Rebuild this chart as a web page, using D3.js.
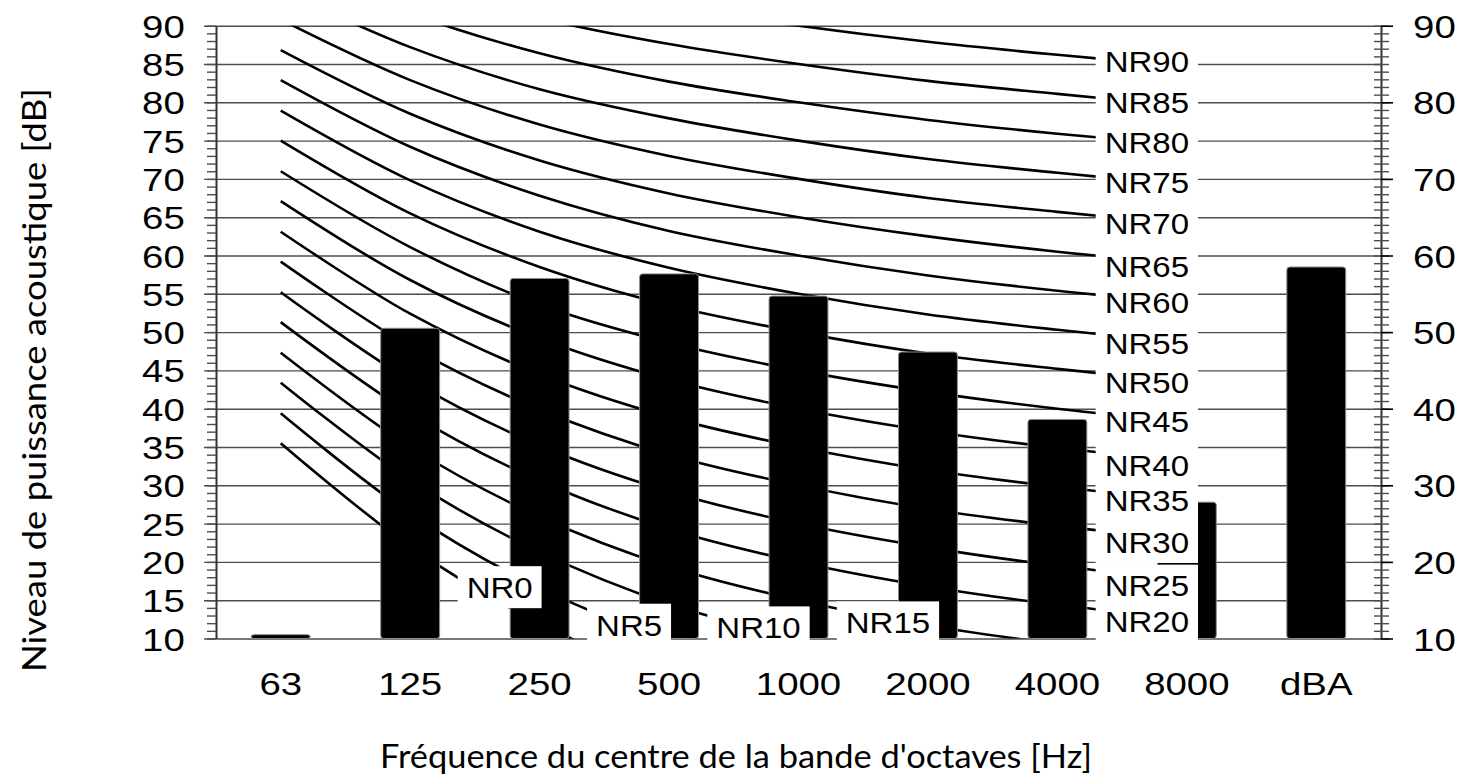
<!DOCTYPE html>
<html>
  <head>
    <meta charset="utf-8">
    <title>Niveau de puissance acoustique - courbes NR</title>
    <style>
      body { margin: 0; background: #fff; }
      #chart { width: 1474px; height: 776px; }
      .num { font-family: 'Liberation Sans', Arial, sans-serif; fill: #000; }
      .title { font-family: Lato, 'Open Sans', sans-serif; font-size: 33px; fill: #000; }
    </style>
  </head>
  <body>
    <div id="chart"></div>
    <script src="https://d3js.org/d3.v7.min.js"></script>
    <script>
      // data
      var categories = ['63', '125', '250', '500', '1000', '2000', '4000', '8000', 'dBA'];
      var levels = [10.5, 50.5, 57.0, 57.6, 54.7, 47.4, 38.6, 27.8, 58.5];

      // noise rating curves, 63 Hz .. 8000 Hz
      var nrBands = ['63', '125', '250', '500', '1000', '2000', '4000', '8000'];
      var nrNames = ['NR0', 'NR5', 'NR10', 'NR15', 'NR20', 'NR25', 'NR30', 'NR35', 'NR40',
                     'NR45', 'NR50', 'NR55', 'NR60', 'NR65', 'NR70', 'NR75', 'NR80', 'NR85', 'NR90'];
      var nrLevels = [
        [35.5, 22.0, 12.0, 4.8, 0.0, -3.5, -6.1, -8.0],
        [39.4, 26.3, 16.6, 9.7, 5.0, 1.6, -1.0, -2.8],
        [43.4, 30.7, 21.3, 14.5, 10.0, 6.6, 4.2, 2.3],
        [47.3, 35.0, 25.9, 19.4, 15.0, 11.7, 9.3, 7.4],
        [51.3, 39.4, 30.6, 24.3, 20.0, 16.8, 14.4, 12.6],
        [55.2, 43.7, 35.2, 29.2, 25.0, 21.9, 19.5, 17.7],
        [59.2, 48.1, 39.9, 34.0, 30.0, 26.9, 24.7, 22.9],
        [63.1, 52.4, 44.5, 38.9, 35.0, 32.0, 29.8, 28.0],
        [67.1, 56.8, 49.2, 43.8, 40.0, 37.1, 34.9, 33.2],
        [71.0, 61.1, 53.6, 48.6, 45.0, 42.2, 40.0, 38.3],
        [75.0, 65.5, 58.5, 53.5, 50.0, 47.2, 45.2, 43.5],
        [78.9, 69.8, 63.1, 58.4, 55.0, 52.3, 50.3, 48.6],
        [82.9, 74.2, 67.8, 63.2, 60.0, 57.4, 55.4, 53.8],
        [86.8, 78.5, 72.4, 68.1, 65.0, 62.5, 60.5, 58.9],
        [90.8, 82.9, 77.1, 73.0, 70.0, 67.5, 65.7, 64.1],
        [94.7, 87.2, 81.7, 77.9, 75.0, 72.6, 70.8, 69.2],
        [98.7, 91.6, 86.4, 82.7, 80.0, 77.7, 75.9, 74.4],
        [102.6, 95.9, 91.0, 87.6, 85.0, 82.8, 81.1, 79.5],
        [106.6, 100.3, 95.7, 92.5, 90.0, 87.9, 86.2, 84.7]
      ];
      // where each NR label sits: band and level (dB) of its centre
      var nrLabelBands = ['250', '500', '1000', '2000', '8000', '8000', '8000', '8000', '8000',
                          '8000', '8000', '8000', '8000', '8000', '8000', '8000', '8000', '8000', '8000'];
      var nrLabelLevels = [16.7, 11.8, 11.45, 12.1, 12.3, 16.9, 22.6, 28.0, 32.6,
                           38.4, 43.4, 48.6, 53.9, 58.65, 64.2, 69.6, 74.8, 80.0, 85.4];

      var leftTicks = [10, 15, 20, 25, 30, 35, 40, 45, 50, 55, 60, 65, 70, 75, 80, 85, 90];
      var rightTicks = [10, 20, 30, 40, 50, 60, 70, 80, 90];
      var minorTicks = d3.range(10, 91, 1);

      (function(d3) {
        'use strict';
        var width = 1474;
        var height = 776;
        var left = 216, right = 1381, top = 25.7, bottom = 638.5;
        var stretch = 1.2;

        var svg = d3.select('#chart')
          .append('svg')
          .attr('width', width)
          .attr('height', height);

        var x = d3.scaleBand().domain(categories).range([left, right]);
        var y = d3.scaleLinear().domain([10, 90]).range([bottom, top]);
        var cx = function(c) { return x(c) + x.bandwidth() / 2; };
        var barWidth = x.bandwidth() * 0.455;

        svg.append('clipPath').attr('id', 'plot')
          .append('rect')
          .attr('x', left).attr('y', top)
          .attr('width', right - left).attr('height', bottom - top);

        // gridlines (they also make the outer major ticks on the left)
        var grid = svg.append('g')
          .attr('transform', 'translate(204,0)')
          .call(d3.axisLeft(y).tickValues(leftTicks).tickSize(-(right - 204)).tickFormat(''));
        grid.select('.domain').remove();
        grid.selectAll('line').attr('stroke', '#4d4d4d').attr('stroke-width', 1.4);

        // NR curves
        var line = d3.line()
          .x(function(d, i) { return cx(nrBands[i]); })
          .y(function(d) { return y(d); })
          .curve(d3.curveCatmullRom.alpha(0.5));

        svg.append('g')
          .attr('clip-path', 'url(#plot)')
          .selectAll('path')
          .data(nrLevels)
          .enter()
          .append('path')
          .attr('d', line)
          .attr('fill', 'none')
          .attr('stroke', '#000')
          .attr('stroke-width', 2.6);

        // bars
        svg.append('g')
          .selectAll('rect')
          .data(levels)
          .enter()
          .append('rect')
          .attr('x', function(d, i) { return cx(categories[i]) - barWidth / 2; })
          .attr('y', function(d) { return y(d); })
          .attr('width', barWidth)
          .attr('height', function(d) { return y(10) - y(d); })
          .attr('rx', 3)
          .attr('fill', '#000')
          .attr('stroke', '#8c8c8c')
          .attr('stroke-width', 1);

        // NR labels in white boxes
        var labels = svg.append('g');
        nrNames.forEach(function(name, i) {
          var lx = cx(nrLabelBands[i]) - 40;
          var ly = y(nrLabelLevels[i]);
          var g = labels.append('g');
          var box = g.append('rect').attr('fill', '#fff');
          var t = g.append('text')
            .attr('class', 'num')
            .attr('transform', 'translate(' + lx + ',' + ly + ') scale(1.1,1)')
            .attr('text-anchor', 'middle')
            .attr('dy', '0.36em')
            .style('font-size', '30px')
            .text(name);
          var w = t.node().getComputedTextLength() * 1.1 + 18;
          box.attr('x', lx - w / 2).attr('y', ly - 21).attr('width', w).attr('height', 42);
        });

        // left axis: line, minor ticks, labels
        var leftMinor = svg.append('g')
          .attr('transform', 'translate(' + left + ',0)')
          .call(d3.axisLeft(y).tickValues(minorTicks).tickSizeInner(9).tickSizeOuter(0).tickFormat(''));
        leftMinor.selectAll('line').attr('stroke', '#4d4d4d').attr('stroke-width', 1.4);
        leftMinor.select('.domain').attr('stroke', '#333').attr('stroke-width', 2);

        var leftLabels = svg.append('g')
          .attr('transform', 'translate(' + left + ',0)')
          .call(d3.axisLeft(y).tickValues(leftTicks).tickSize(0).tickPadding(26));
        leftLabels.select('.domain').remove();
        leftLabels.selectAll('text')
          .attr('class', 'num')
          .attr('dy', '0.36em')
          .attr('transform', 'scale(' + stretch + ',1)')
          .style('font-size', '32px');

        // right axis: crossing minor ticks, longer major ticks, labels
        var rightIn = svg.append('g')
          .attr('transform', 'translate(' + right + ',0)')
          .call(d3.axisLeft(y).tickValues(minorTicks).tickSizeInner(7).tickSizeOuter(0).tickFormat(''));
        rightIn.selectAll('line').attr('stroke', '#4d4d4d').attr('stroke-width', 1.4);
        rightIn.select('.domain').attr('stroke', '#333').attr('stroke-width', 2);

        var rightOut = svg.append('g')
          .attr('transform', 'translate(' + right + ',0)')
          .call(d3.axisRight(y).tickValues(minorTicks).tickSizeInner(8).tickSizeOuter(0).tickFormat(''));
        rightOut.select('.domain').remove();
        rightOut.selectAll('line').attr('stroke', '#4d4d4d').attr('stroke-width', 1.4);

        var rightLabels = svg.append('g')
          .attr('transform', 'translate(' + right + ',0)')
          .call(d3.axisRight(y).tickValues(rightTicks).tickSize(12).tickPadding(14.7));
        rightLabels.select('.domain').remove();
        rightLabels.selectAll('line').attr('stroke', '#000').attr('stroke-width', 1.6);
        rightLabels.selectAll('text')
          .attr('class', 'num')
          .attr('dy', '0.36em')
          .attr('transform', 'scale(' + stretch + ',1)')
          .style('font-size', '32px');

        // category labels (ticks already sit on band centres)
        var xAxis = svg.append('g')
          .attr('transform', 'translate(0,' + bottom + ')')
          .call(d3.axisBottom(x).tickSize(0).tickPadding(0));
        xAxis.select('.domain').remove();
        xAxis.selectAll('.tick text')
          .attr('class', 'num')
          .attr('y', 56.5)
          .attr('dy', 0)
          .attr('transform', 'scale(' + stretch + ',1)')
          .style('font-size', '32px');

        // axis titles
        svg.append('text')
          .attr('class', 'title')
          .attr('x', 736)
          .attr('y', 768)
          .attr('text-anchor', 'middle')
          .attr('textLength', 712)
          .attr('lengthAdjust', 'spacingAndGlyphs')
          .text("Fréquence du centre de la bande d'octaves [Hz]");

        svg.append('text')
          .attr('class', 'title')
          .attr('transform', 'translate(46,380) rotate(-90)')
          .attr('text-anchor', 'middle')
          .attr('textLength', 584)
          .attr('lengthAdjust', 'spacingAndGlyphs')
          .text('Niveau de puissance acoustique [dB]');
      })(window.d3);
    </script>
  </body>
</html>
